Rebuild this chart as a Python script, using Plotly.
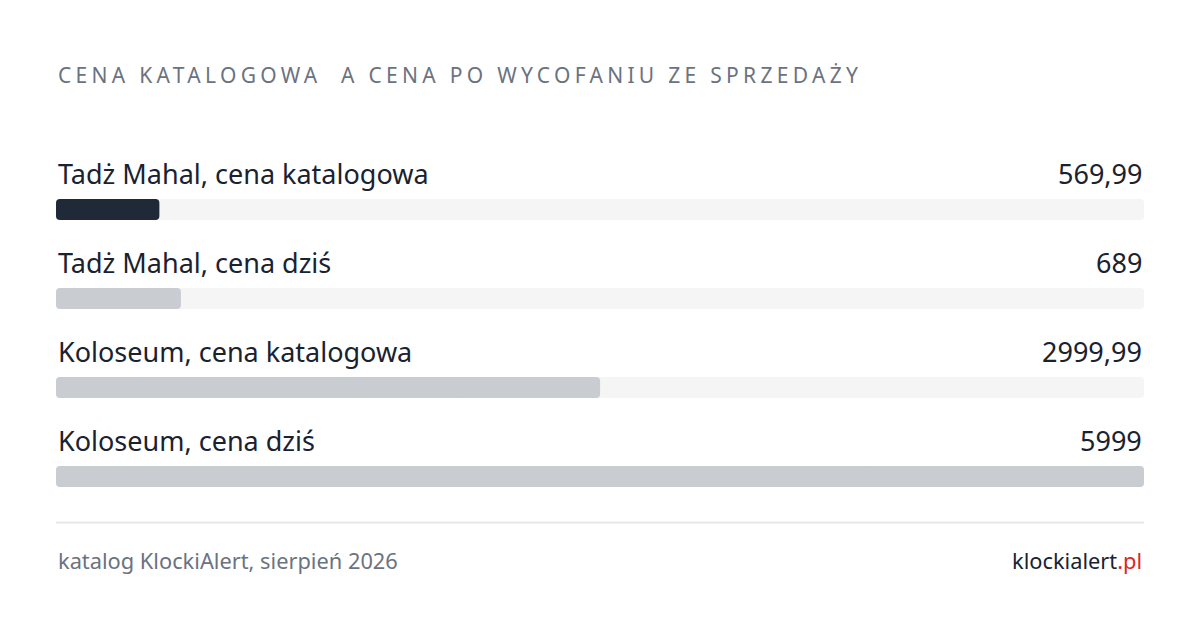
import plotly.graph_objects as go

# data
labels = ['Tadż Mahal, cena katalogowa', 'Tadż Mahal, cena dziś',
          'Koloseum, cena katalogowa', 'Koloseum, cena dziś']
values = [569.99, 689, 2999.99, 5999]
value_text = ['569,99', '689', '2999,99', '5999']
bar_colors = ['#1f2937', '#c9ccd1', '#c9ccd1', '#c9ccd1']

title = 'CENA KATALOGOWA  A CENA PO WYCOFANIU ZE SPRZEDAŻY'
source = 'katalog KlockiAlert, sierpień 2026'

W, H = 1200, 630
OFF = 8           # the page puts the figure 8px in from the corner
ROW = 89          # px between bars
FIRST = 209.5 - OFF
BAR = 21
x_max = max(values)

rows = list(range(len(labels)))
bw = BAR / ROW


def rounded_bar(vals, color, **kw):
    # plotly rounds only the far end of a bar, so each bar is two
    # overlapping pieces: one grown rightwards, one grown leftwards
    a = [v * 0.25 for v in vals]
    b = [v * 0.75 for v in vals]
    fig.add_trace(go.Bar(x=b, base=a, y=rows, orientation='h', width=bw,
                         marker=dict(color=color, line=dict(width=0)),
                         showlegend=False, **kw))
    fig.add_trace(go.Bar(x=[-v for v in b], base=b, y=rows, orientation='h',
                         width=bw, marker=dict(color=color, line=dict(width=0)),
                         showlegend=False, hoverinfo='skip'))


fig = go.Figure()
rounded_bar([x_max] * len(labels), '#f5f5f6', hoverinfo='skip')
rounded_bar(values, bar_colors)

fig.add_annotation(text=f"<span style='letter-spacing:4.3px'>{title}</span>",
                   xref='paper', yref='paper', x=0, y=1 - (75 - OFF) / H,
                   xanchor='left', yanchor='middle', showarrow=False,
                   font=dict(size=21, color='#6b7280'))

for i, (lab, vt) in enumerate(zip(labels, value_text)):
    fig.add_annotation(text=lab, xref='x', yref='y', x=0, y=i, yshift=36,
                       xanchor='left', yanchor='middle', showarrow=False,
                       font=dict(size=27, color='#1a2230'))
    fig.add_annotation(text=vt, xref='x', yref='y', x=x_max, y=i, yshift=36,
                       xanchor='right', yanchor='middle', showarrow=False,
                       font=dict(size=27, color='#1a2230'))

# separator + footer
sep = 1 - (522.5 - OFF) / H
fig.add_shape(type='line', xref='paper', yref='paper', x0=0, x1=1,
              y0=sep, y1=sep, line=dict(color='#e5e7eb', width=2))
fig.add_annotation(text=source, xref='paper', yref='paper', x=0, y=1 - (560 - OFF) / H,
                   xanchor='left', yanchor='middle', showarrow=False,
                   font=dict(size=21.8, color='#6b7280'))
fig.add_annotation(text="klockialert<span style='color:#dc2626'>.pl</span>",
                   xref='paper', yref='paper', x=1, y=1 - (560 - OFF) / H,
                   xanchor='right', yanchor='middle', showarrow=False,
                   font=dict(size=21.8, color='#1a2230'))

top = -FIRST / ROW
bottom = top + H / ROW
fig.update_layout(
    width=W, height=H,
    margin=dict(l=56 - OFF, r=56 + OFF, t=0, b=0),
    paper_bgcolor='white', plot_bgcolor='white',
    font=dict(family='Noto Sans'),
    barmode='overlay', barcornerradius=4,
    xaxis=dict(range=[0, x_max], visible=False, fixedrange=True),
    yaxis=dict(range=[bottom, top], visible=False, fixedrange=True),
)

fig.write_html('out.html')
